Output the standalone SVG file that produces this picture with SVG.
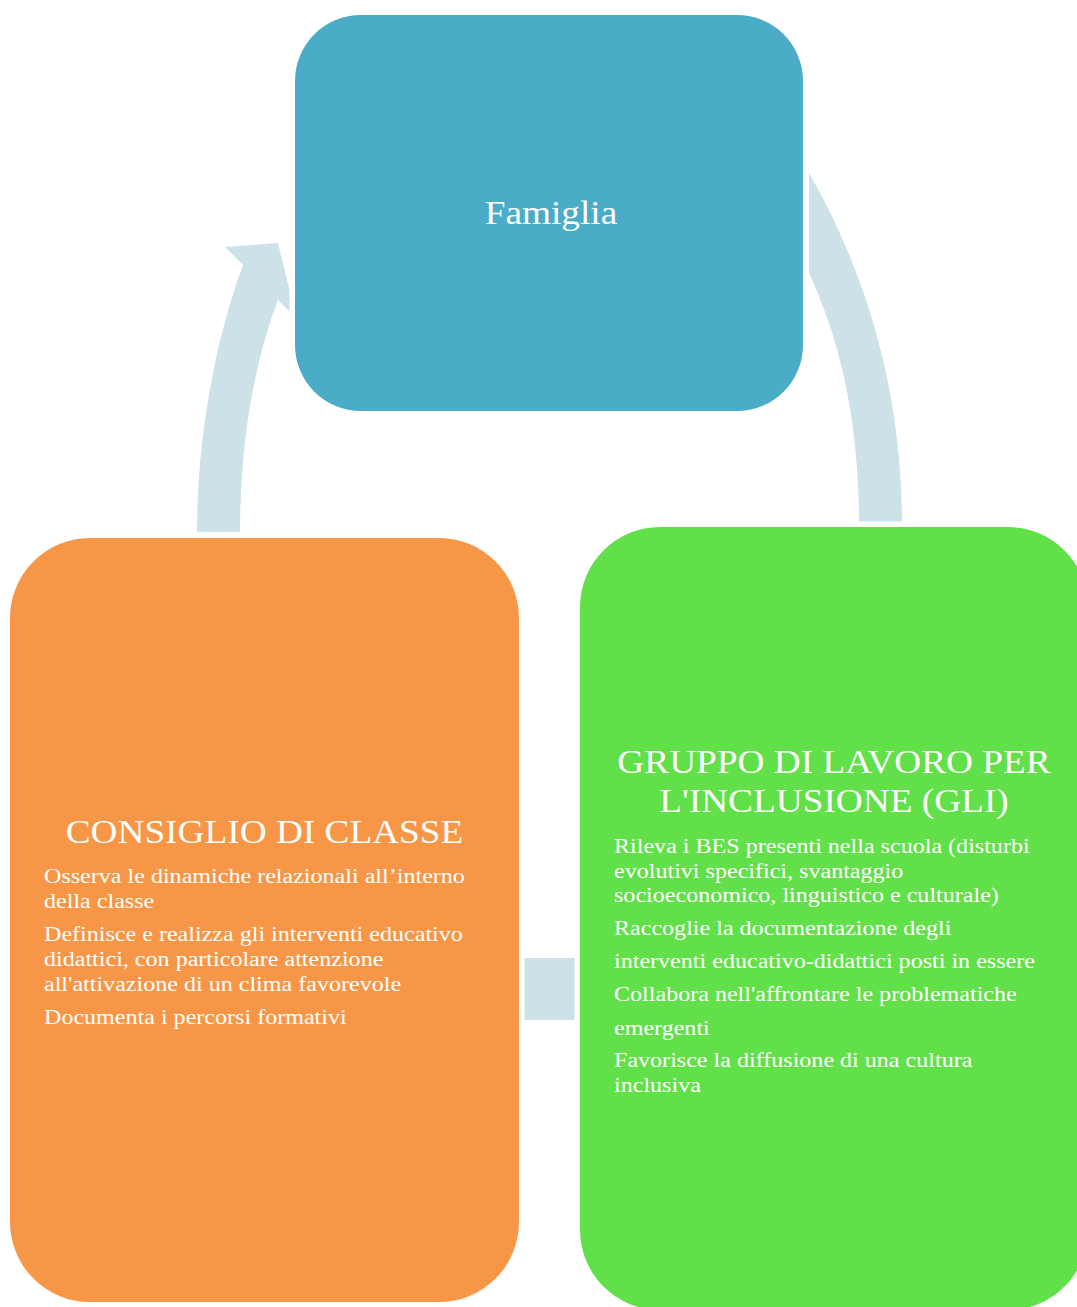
<svg xmlns="http://www.w3.org/2000/svg" width="1077" height="1307" viewBox="0 0 1077 1307">
<style>
.conn{fill:#CDE1E8;stroke:none}
.box{stroke:#FFFFFF;stroke-width:11;paint-order:stroke}
.t{font-family:"Liberation Serif","Times New Roman",serif;fill:#FFFFFF}
.title{font-size:33px}
.body{font-size:21.3px}
</style>
<rect width="1077" height="1307" fill="#FFFFFF"/>
<g id="connectors">
<path class="conn" d="M197,532 C197,440 215,340 243,265 L225,247 L278,243 L296.5,318.5 L278,300 C255,360 240,440 240,532 Z"/>
<path class="conn" d="M902,522 C902,390 865,270 809,173 L809,273 C840,340 859,420 859,522 Z"/>
<rect class="conn" x="524" y="958" width="51" height="62"/>
</g>
<g id="famiglia">
<rect class="box" x="295" y="15" width="508" height="396" rx="66" ry="66" fill="#4AACC6"/>
<g transform="translate(551,0) scale(1.13,1)"><text class="t" x="0" y="224" font-size="33" text-anchor="middle">Famiglia</text></g>
</g>
<g id="consiglio">
<rect class="box" x="10" y="538" width="509" height="764" rx="80" ry="80" fill="#F79646"/>
<g transform="translate(264.5,0) scale(1.13,1)"><text class="t title" x="0" y="843" text-anchor="middle">CONSIGLIO DI CLASSE</text></g>
<g transform="translate(44,0) scale(1.13,1)">
<text class="t body" x="0" y="883">Osserva le dinamiche relazionali all’interno</text>
<text class="t body" x="0" y="908">della classe</text>
<text class="t body" x="0" y="941">Definisce e realizza gli interventi educativo</text>
<text class="t body" x="0" y="966">didattici, con particolare attenzione</text>
<text class="t body" x="0" y="991">all'attivazione di un clima favorevole</text>
<text class="t body" x="0" y="1024">Documenta i percorsi formativi</text>
</g>
</g>
<g id="gli">
<rect class="box" x="580" y="527" width="508" height="783" rx="80" ry="80" fill="#62E04A"/>
<g transform="translate(834,0) scale(1.13,1)">
<text class="t title" x="0" y="773" text-anchor="middle">GRUPPO DI LAVORO PER</text>
<text class="t title" x="0" y="812" text-anchor="middle">L'INCLUSIONE (GLI)</text>
</g>
<g transform="translate(614,0) scale(1.13,1)">
<text class="t body" x="0" y="853">Rileva i BES presenti nella scuola (disturbi</text>
<text class="t body" x="0" y="878">evolutivi specifici, svantaggio</text>
<text class="t body" x="0" y="902">socioeconomico, linguistico e culturale)</text>
<text class="t body" x="0" y="935">Raccoglie la documentazione degli</text>
<text class="t body" x="0" y="968">interventi educativo-didattici posti in essere</text>
<text class="t body" x="0" y="1001">Collabora nell'affrontare le problematiche</text>
<text class="t body" x="0" y="1035">emergenti</text>
<text class="t body" x="0" y="1067">Favorisce la diffusione di una cultura</text>
<text class="t body" x="0" y="1092">inclusiva</text>
</g>
</g>
</svg>
